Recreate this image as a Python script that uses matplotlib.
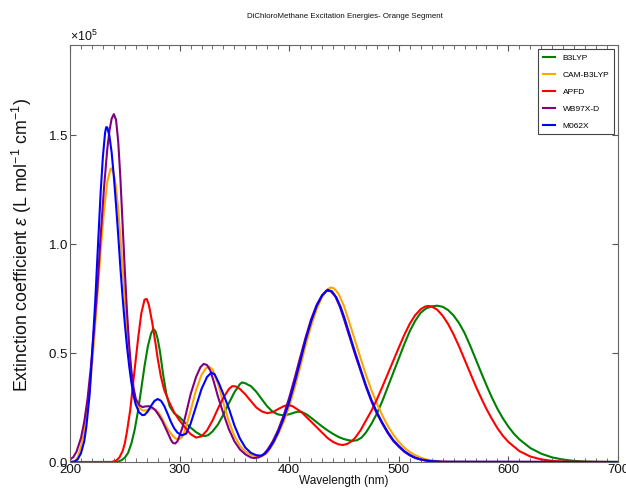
import matplotlib
matplotlib.use('Agg')
import matplotlib.pyplot as plt
from matplotlib.ticker import MultipleLocator, ScalarFormatter

plt.rcParams['font.family'] = ['Liberation Sans', 'DejaVu Sans']
plt.rcParams['mathtext.fontset'] = 'custom'
plt.rcParams['mathtext.rm'] = 'Liberation Sans'
plt.rcParams['mathtext.it'] = 'Liberation Sans:italic'

# (wavelength nm, extinction coefficient in 1e5 L mol-1 cm-1)
b3lyp = [(200, 0), (240, 0), (244, 0.002), (247, 0.008), (250, 0.02), (253, 0.042), (256, 0.085),
         (259, 0.148), (262, 0.232), (265, 0.335), (268, 0.44), (271, 0.53), (274, 0.59), (276, 0.61),
         (278, 0.60), (280, 0.565), (282, 0.51), (285, 0.40), (288, 0.31), (291, 0.255), (295, 0.224),
         (300, 0.205), (305, 0.18), (310, 0.158), (315, 0.137), (320, 0.122), (323, 0.119), (326, 0.123),
         (330, 0.14), (335, 0.172), (340, 0.218), (345, 0.27), (350, 0.32), (355, 0.357), (357, 0.365),
         (360, 0.361), (365, 0.348), (370, 0.322), (375, 0.288), (380, 0.255), (385, 0.23), (390, 0.218),
         (395, 0.214), (400, 0.219), (405, 0.227), (408, 0.231), (412, 0.228), (416, 0.218), (420, 0.203),
         (425, 0.183), (430, 0.163), (435, 0.145), (440, 0.129), (445, 0.115), (450, 0.105), (455, 0.099),
         (458, 0.097), (462, 0.1), (466, 0.112), (470, 0.135), (475, 0.175), (480, 0.222), (485, 0.28),
         (490, 0.345), (495, 0.41), (500, 0.475), (505, 0.54), (510, 0.60), (515, 0.648), (520, 0.685),
         (525, 0.705), (530, 0.714), (535, 0.717), (540, 0.712), (545, 0.697), (550, 0.672), (555, 0.637),
         (560, 0.592), (565, 0.535), (570, 0.474), (575, 0.412), (580, 0.352), (585, 0.295), (590, 0.244),
         (595, 0.2), (600, 0.162), (605, 0.13), (610, 0.104), (620, 0.064), (630, 0.038), (640, 0.021),
         (650, 0.011), (660, 0.005), (670, 0.002), (680, 0.001), (700, 0)]

cam_b3lyp = [(200, 0), (204, 0.002), (207, 0.02), (210, 0.07), (213, 0.14), (216, 0.245), (219, 0.385),
             (222, 0.56), (225, 0.76), (228, 0.97), (231, 1.15), (234, 1.285), (237, 1.345), (238, 1.347),
             (240, 1.32), (242, 1.26), (244, 1.16), (246, 1.03), (248, 0.89), (250, 0.745), (252, 0.6),
             (254, 0.48), (256, 0.39), (258, 0.32), (260, 0.28), (263, 0.25), (266, 0.237), (269, 0.236),
             (272, 0.242), (275, 0.246), (278, 0.24), (281, 0.225), (284, 0.2), (287, 0.17), (290, 0.145),
             (293, 0.125), (296, 0.109), (299, 0.103), (302, 0.112), (305, 0.145), (310, 0.235), (315, 0.33),
             (320, 0.40), (324, 0.43), (327, 0.437), (330, 0.425), (335, 0.36), (340, 0.27), (345, 0.185),
             (350, 0.12), (355, 0.075), (360, 0.048), (365, 0.033), (370, 0.026), (375, 0.025), (380, 0.042),
             (385, 0.08), (390, 0.128), (395, 0.185), (400, 0.255), (405, 0.34), (410, 0.435), (415, 0.535),
             (420, 0.625), (425, 0.7), (430, 0.757), (435, 0.792), (438, 0.801), (441, 0.796), (445, 0.772),
             (450, 0.715), (455, 0.638), (460, 0.558), (465, 0.478), (470, 0.40), (475, 0.33), (480, 0.268),
             (485, 0.213), (490, 0.165), (495, 0.125), (500, 0.092), (505, 0.066), (510, 0.046), (515, 0.031),
             (520, 0.02), (525, 0.012), (530, 0.007), (540, 0.002), (550, 0.0005), (700, 0)]

apfd = [(200, 0), (238, 0), (242, 0.006), (245, 0.02), (248, 0.05), (250, 0.085), (252, 0.14), (255, 0.24),
        (258, 0.38), (260, 0.47), (262, 0.56), (265, 0.68), (268, 0.745), (270, 0.748), (272, 0.72),
        (275, 0.64), (278, 0.545), (280, 0.475), (283, 0.39), (286, 0.33), (290, 0.28), (295, 0.228),
        (300, 0.19), (305, 0.158), (310, 0.128), (315, 0.112), (320, 0.118), (325, 0.145), (330, 0.19),
        (335, 0.245), (340, 0.295), (345, 0.335), (348, 0.348), (351, 0.347), (355, 0.335), (360, 0.31),
        (365, 0.28), (370, 0.25), (375, 0.232), (380, 0.224), (385, 0.229), (390, 0.243), (395, 0.256),
        (399, 0.262), (403, 0.256), (407, 0.243), (411, 0.23), (415, 0.21), (420, 0.185), (425, 0.16),
        (430, 0.135), (435, 0.11), (440, 0.092), (445, 0.081), (449, 0.078), (453, 0.083), (457, 0.096),
        (460, 0.11), (465, 0.145), (470, 0.19), (475, 0.235), (480, 0.287), (485, 0.345), (490, 0.405),
        (495, 0.465), (500, 0.525), (505, 0.583), (510, 0.634), (515, 0.674), (520, 0.701), (524, 0.713),
        (527, 0.716), (530, 0.713), (535, 0.699), (540, 0.671), (545, 0.633), (550, 0.585), (555, 0.53),
        (560, 0.47), (565, 0.41), (570, 0.35), (575, 0.295), (580, 0.243), (585, 0.197), (590, 0.155),
        (595, 0.12), (600, 0.092), (610, 0.05), (620, 0.025), (630, 0.012), (640, 0.005), (650, 0.002),
        (660, 0.001), (680, 0), (700, 0)]

wb97xd = [(200, 0.012), (203, 0.022), (206, 0.048), (210, 0.11), (213, 0.185), (216, 0.29), (219, 0.433),
          (222, 0.612), (225, 0.8), (228, 1.04), (231, 1.255), (234, 1.435), (236, 1.52), (238, 1.575),
          (240, 1.596), (242, 1.57), (244, 1.47), (246, 1.3), (248, 1.09), (250, 0.88), (252, 0.69),
          (254, 0.535), (256, 0.42), (258, 0.34), (260, 0.29), (263, 0.262), (266, 0.252), (269, 0.255),
          (272, 0.256), (275, 0.25), (278, 0.237), (281, 0.215), (284, 0.19), (287, 0.158), (290, 0.125),
          (292, 0.102), (294, 0.087), (296, 0.085), (298, 0.095), (300, 0.12), (303, 0.165), (306, 0.225),
          (310, 0.31), (315, 0.39), (319, 0.435), (322, 0.45), (325, 0.445), (328, 0.42), (331, 0.372),
          (335, 0.3), (340, 0.222), (345, 0.15), (350, 0.095), (355, 0.058), (360, 0.035), (365, 0.021),
          (368, 0.018), (372, 0.021), (376, 0.032), (380, 0.055), (385, 0.095), (390, 0.148), (395, 0.215),
          (400, 0.295), (405, 0.385), (410, 0.48), (415, 0.572), (420, 0.655), (425, 0.72), (430, 0.765),
          (434, 0.786), (438, 0.783), (442, 0.76), (446, 0.715), (450, 0.655), (455, 0.575), (460, 0.495),
          (465, 0.42), (470, 0.345), (475, 0.278), (480, 0.222), (485, 0.175), (490, 0.132), (495, 0.096),
          (500, 0.07), (505, 0.047), (510, 0.03), (515, 0.018), (520, 0.011), (525, 0.006), (530, 0.003),
          (540, 0.001), (700, 0)]

m062x = [(200, 0), (204, 0.002), (207, 0.012), (210, 0.04), (213, 0.095), (215, 0.165), (218, 0.315),
         (220, 0.48), (223, 0.735), (225, 0.94), (228, 1.24), (230, 1.40), (232, 1.51), (233, 1.536),
         (234, 1.535), (236, 1.495), (238, 1.42), (240, 1.31), (242, 1.18), (244, 1.04), (246, 0.89),
         (248, 0.755), (250, 0.635), (252, 0.53), (254, 0.44), (256, 0.365), (258, 0.305), (260, 0.263),
         (263, 0.228), (266, 0.215), (268, 0.216), (271, 0.232), (274, 0.258), (277, 0.28), (280, 0.289),
         (283, 0.281), (286, 0.257), (289, 0.222), (292, 0.185), (295, 0.155), (298, 0.135), (302, 0.122),
         (306, 0.13), (310, 0.175), (315, 0.255), (320, 0.335), (325, 0.39), (329, 0.41), (332, 0.402),
         (336, 0.36), (340, 0.31), (345, 0.245), (350, 0.168), (355, 0.108), (360, 0.066), (365, 0.042),
         (370, 0.031), (374, 0.029), (378, 0.038), (382, 0.062), (386, 0.095), (390, 0.137), (395, 0.2),
         (400, 0.275), (405, 0.365), (410, 0.46), (415, 0.56), (420, 0.645), (425, 0.715), (430, 0.764),
         (435, 0.79), (439, 0.783), (443, 0.755), (447, 0.71), (450, 0.667), (455, 0.586), (460, 0.505),
         (465, 0.428), (470, 0.352), (475, 0.285), (480, 0.228), (485, 0.18), (490, 0.137), (495, 0.1),
         (500, 0.074), (505, 0.05), (510, 0.033), (515, 0.02), (520, 0.012), (525, 0.007), (530, 0.004),
         (540, 0.001), (700, 0)]

labels = ['B3LYP', 'CAM-B3LYP', 'APFD', 'WB97X-D', 'M062X']
colors = ['green', 'orange', 'red', 'purple', 'blue']
spectra = [b3lyp, cam_b3lyp, apfd, wb97xd, m062x]

fig = plt.figure(figsize=(6.26, 4.97), dpi=100)
ax = fig.add_axes([70 / 626, 35 / 497, 548 / 626, 417 / 497])

for data, lab, col in zip(spectra, labels, colors):
    nm = [p[0] for p in data]
    eps = [p[1] * 1e5 for p in data]
    ax.plot(nm, eps, color=col, lw=1.5, label=lab)

ax.set_xlim(200, 700)
ax.set_ylim(0, 1.913e5)
ax.xaxis.set_major_locator(MultipleLocator(100))
ax.xaxis.set_minor_locator(MultipleLocator(10))
ax.yaxis.set_major_locator(MultipleLocator(0.5e5))

fmt = ScalarFormatter(useMathText=True)
fmt.set_powerlimits((0, 0))
ax.yaxis.set_major_formatter(fmt)
ax.yaxis.get_offset_text().set_fontsize(9)

ax.tick_params(which='both', direction='in', top=True, right=True, colors='#555555',
               labelcolor='#111111', labelsize=9.5, pad=1.5)
ax.tick_params(which='major', length=4)
ax.tick_params(which='minor', length=3)
for s in ax.spines.values():
    s.set_color('#666666')
    s.set_linewidth(0.8)

ax.set_xlabel('Wavelength (nm)', fontsize=8.5, color='#111111')
ax.xaxis.set_label_coords(0.5, -0.03)
ax.set_ylabel(r'Extinction coefficient $\epsilon$ (L mol$^{-1}$ cm$^{-1}$)', fontsize=12.8,
              color='#111111', va='center')
ax.yaxis.set_label_coords(-0.088, 0.52)

fig.text(345 / 626, 1 - 17 / 497, 'DiChloroMethane Excitation Energies- Orange Segment',
         ha='center', va='center', fontsize=5.7, color='#111111')

leg = ax.legend(loc='upper right', fontsize=6, frameon=True, fancybox=False, framealpha=1,
                edgecolor='#444444', borderpad=0.55, labelspacing=1.1, handlelength=1.5,
                handletextpad=0.9, borderaxespad=0.5)
leg.get_frame().set_linewidth(0.8)

fig.savefig('out.png', dpi=100)
